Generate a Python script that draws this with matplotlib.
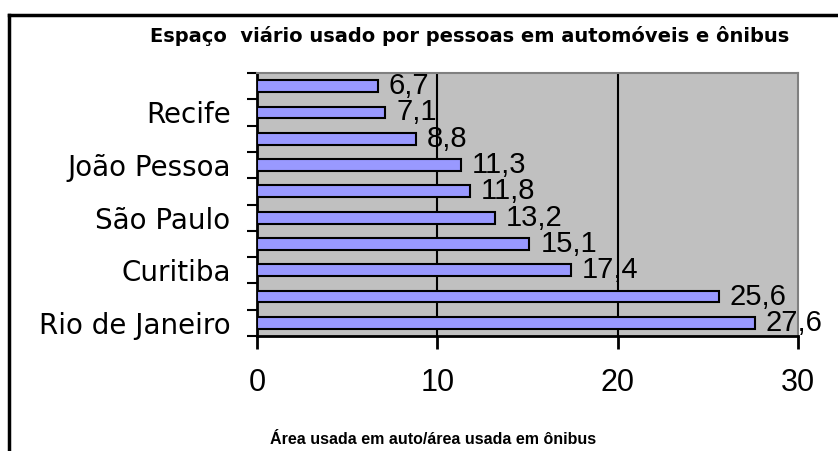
import matplotlib
matplotlib.use("Agg")
import matplotlib.pyplot as plt
from matplotlib.lines import Line2D

# bottom to top, as drawn
cities = ["Rio de Janeiro", "", "Curitiba", "", "São Paulo", "", "João Pessoa", "", "Recife", ""]
ratio = [27.6, 25.6, 17.4, 15.1, 13.2, 11.8, 11.3, 8.8, 7.1, 6.7]
xticks = [0, 10, 20, 30]

title = "Espaço  viário usado por pessoas em automóveis e ônibus"
xlabel = "Área usada em auto/área usada em ônibus"

arial = ["Liberation Sans", "DejaVu Sans"]

fig = plt.figure(figsize=(8.38, 4.51), dpi=100)
ax = fig.add_axes([257 / 838, 1 - 336 / 451, (798 - 257) / 838, (336 - 73) / 451])
ax.set_facecolor("#C0C0C0")

pos = list(range(len(ratio)))
ax.barh(pos, ratio, height=0.45, color="#9999FF", edgecolor="black", linewidth=1.5, zorder=3)
for y, v in zip(pos, ratio):
    ax.annotate(f"{v:.1f}".replace(".", ","), (v, y), xytext=(8, 0), textcoords="offset points",
                va="center", ha="left", fontsize=21, family=arial, zorder=4, annotation_clip=False)

ax.set_xlim(0, 30)
ax.set_ylim(-0.5, len(ratio) - 0.5)
for g in [10, 20]:
    ax.axvline(g, color="black", lw=1.5, zorder=2)

# y ticks at category boundaries, names in the middle of each slot
ax.set_yticks([p - 0.5 for p in pos] + [len(ratio) - 0.5])
ax.set_yticklabels([])
ax.set_yticks(pos, minor=True)
ax.set_yticklabels(cities, minor=True, fontsize=20)
ax.tick_params(axis="y", which="minor", length=0, pad=19)
ax.tick_params(axis="y", which="major", length=7, width=1.5)

ax.set_xticks(xticks)
ax.set_xticklabels([str(t) for t in xticks], fontsize=22, family=arial)
ax.tick_params(axis="x", length=9, width=2, pad=14)

for s in ["top", "right"]:
    ax.spines[s].set_color("#808080")
    ax.spines[s].set_linewidth(1.5)
for s in ["left", "bottom"]:
    ax.spines[s].set_linewidth(2)

fig.text(150 / 838, 1 - 36 / 451, title, ha="left", va="center", fontsize=14, fontweight="bold")
fig.text(433 / 838, 1 - 440 / 451, xlabel, ha="center", va="center", fontsize=11.5,
         fontweight="bold", family=arial)

# outer chart border (runs off the right and bottom edges)
fig.add_artist(Line2D([9 / 838, 9 / 838], [0, 1 - 15 / 451], color="black", lw=2.5))
fig.add_artist(Line2D([9 / 838, 1], [1 - 15 / 451, 1 - 15 / 451], color="black", lw=2.5))

fig.savefig("out.png", dpi=100)
